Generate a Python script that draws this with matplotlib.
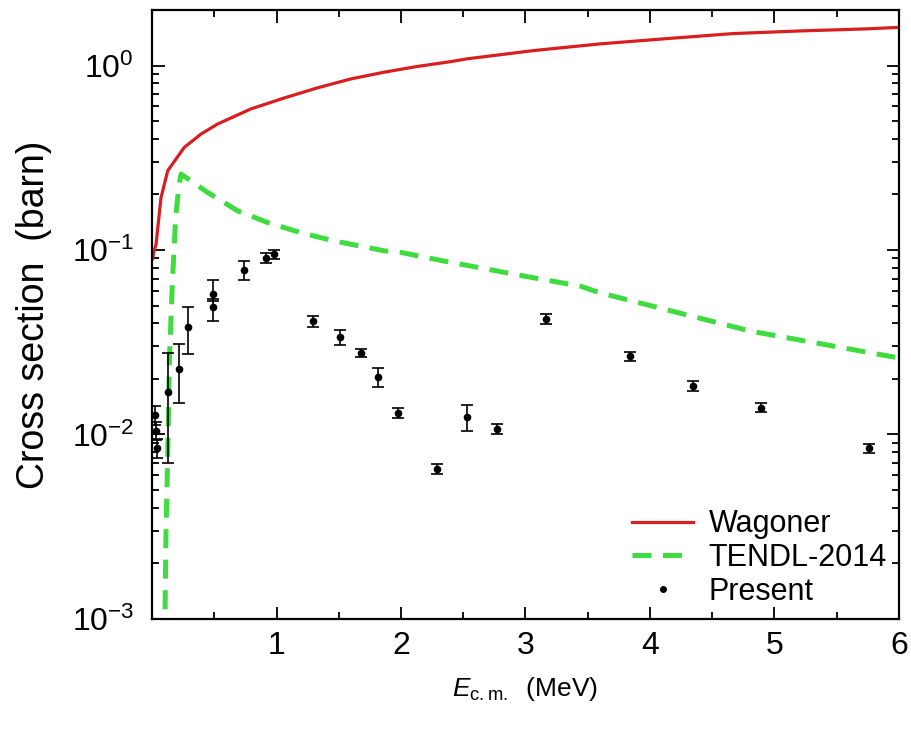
import matplotlib.pyplot as plt
import numpy as np
from matplotlib.lines import Line2D
from matplotlib.ticker import LogLocator, MultipleLocator, NullFormatter

plt.rcParams['font.family'] = ['Liberation Sans', 'DejaVu Sans']
plt.rcParams['mathtext.fontset'] = 'custom'
plt.rcParams['mathtext.rm'] = 'Liberation Sans'
plt.rcParams['mathtext.it'] = 'Liberation Sans:italic'

# Wagoner curve
wag_e = [0.005, 0.015, 0.032, 0.072, 0.126, 0.259, 0.393, 0.527, 0.795, 1.062, 1.33, 1.597,
         1.864, 2.13, 2.4, 2.53, 3.07, 3.6, 4.14, 4.67, 5.21, 5.74, 6.0]
wag_xs = [0.09, 0.098, 0.107, 0.192, 0.269, 0.36, 0.425, 0.482, 0.582, 0.667, 0.757, 0.846,
          0.92, 0.988, 1.05, 1.087, 1.206, 1.31, 1.40, 1.49, 1.54, 1.58, 1.61]

# TENDL-2014
tendl_e = [0.105, 0.112, 0.125, 0.14, 0.165, 0.19, 0.215, 0.233, 0.447, 0.688, 0.928, 1.196,
           1.463, 1.865, 2.0, 2.35, 3.0, 3.44, 3.6, 4.81, 6.0]
tendl_xs = [0.00113, 0.0029, 0.0071, 0.026, 0.07, 0.15, 0.22, 0.258, 0.205, 0.163, 0.141, 0.124,
            0.112, 0.099, 0.097, 0.087, 0.072, 0.0637, 0.0586, 0.0363, 0.026]

# present data
e_cm = [0.02, 0.03, 0.04, 0.126, 0.22, 0.286, 0.487, 0.487, 0.736, 0.915, 0.98, 1.29, 1.509,
        1.677, 1.816, 1.977, 2.293, 2.534, 2.769, 3.168, 3.836, 4.344, 4.888, 5.757]
sigma = [0.0128, 0.0105, 0.0085, 0.0171, 0.0226, 0.0382, 0.0579, 0.049, 0.0776, 0.0908, 0.0948,
         0.0411, 0.0337, 0.0277, 0.0205, 0.0131, 0.00651, 0.0124, 0.0107, 0.0423, 0.0265, 0.0184,
         0.0140, 0.00843]
err_lo = [0.0015, 0.0012, 0.001, 0.0101, 0.0078, 0.0109, 0.005, 0.008, 0.0086, 0.006, 0.005,
          0.003, 0.003, 0.0015, 0.0025, 0.0008, 0.0004, 0.002, 0.0007, 0.0025, 0.0015, 0.0012,
          0.0008, 0.0005]
err_hi = [0.0015, 0.0012, 0.001, 0.0106, 0.0084, 0.0108, 0.011, 0.005, 0.0097, 0.006, 0.005,
          0.003, 0.003, 0.0015, 0.0023, 0.0008, 0.0004, 0.002, 0.0007, 0.0025, 0.0015, 0.0012,
          0.0008, 0.0005]

fig = plt.figure(figsize=(9.12, 7.34), dpi=100)
ax = fig.add_axes([0.1667, 0.1567, 0.819, 0.8297])

l1, = ax.plot(wag_e, wag_xs, '-', color='#d81e1e', lw=2.3)
l2, = ax.plot(tendl_e, tendl_xs, '--', color='#3fdc3f', lw=3.6, dashes=(3.8, 2.3))
ax.errorbar(e_cm, sigma, yerr=[err_lo, err_hi], fmt='o', color='black', ms=4.5,
            elinewidth=1.2, capsize=4, capthick=1.2)

ax.set_yscale('log')
ax.set_xlim(0, 6)
ax.set_ylim(1e-3, 2)
ax.set_xticks([1, 2, 3, 4, 5, 6])
ax.xaxis.set_minor_locator(MultipleLocator(0.5))
ax.yaxis.set_major_locator(LogLocator(base=10, numticks=10))
ax.yaxis.set_minor_locator(LogLocator(base=10, subs=np.arange(2, 10), numticks=10))
ax.yaxis.set_minor_formatter(NullFormatter())

ax.tick_params(which='both', direction='in', top=True, right=True, width=1.3)
ax.tick_params(which='major', length=9, labelsize=23)
ax.tick_params(which='minor', length=5)
ax.tick_params(axis='y', pad=13)
ax.tick_params(axis='x', pad=9)
for s in ax.spines.values():
    s.set_linewidth(1.6)

ax.set_xlabel(r'$E_{\mathrm{c.m.}}$  (MeV)', fontsize=19, labelpad=10)
ax.set_ylabel('Cross section  (barn)', fontsize=27, labelpad=14)

dot = Line2D([], [], ls='none', marker='o', color='black', ms=4)
ax.legend([l1, l2, dot], ['Wagoner', 'TENDL-2014', 'Present'], loc='lower right',
          frameon=False, fontsize=22, handlelength=2.0, handletextpad=0.5,
          borderaxespad=0.1, borderpad=0.3, labelspacing=0.12)

fig.savefig('out.png', dpi=100)
